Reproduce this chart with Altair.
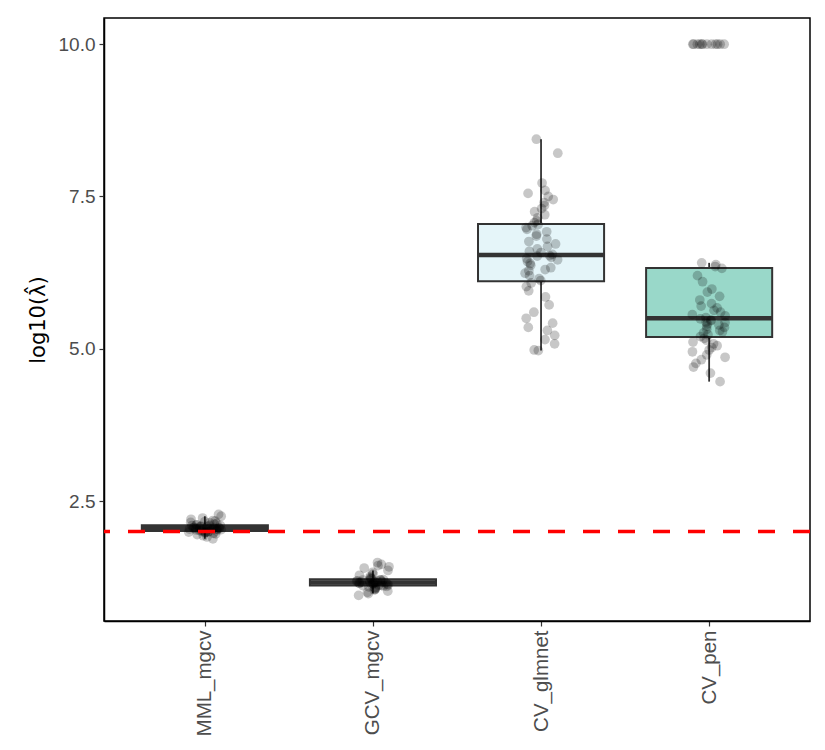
import altair as alt
import pandas as pd

methods = ["MML_mgcv", "GCV_mgcv", "CV_glmnet", "CV_pen"]

mml_mgcv = [1.88, 1.91, 1.93, 1.95, 1.96, 1.97, 1.98, 1.985, 1.99, 1.99, 1.995, 2.0, 2.005,
            2.01, 2.015, 2.02, 2.025, 2.03, 2.03, 2.035, 2.04, 2.04, 2.045, 2.05, 2.05, 2.055,
            2.06, 2.06, 2.065, 2.07, 2.075, 2.08, 2.085, 2.09, 2.095, 2.1, 2.1, 2.105, 2.11,
            2.12, 2.13, 2.14, 2.15, 2.16, 2.17, 2.18, 2.2, 2.22, 2.25, 2.28]
gcv_mgcv = [0.95, 0.98, 1.0, 1.02, 1.04, 1.05, 1.06, 1.07, 1.08, 1.09, 1.10, 1.105, 1.11,
            1.115, 1.12, 1.125, 1.13, 1.135, 1.14, 1.145, 1.15, 1.15, 1.155, 1.16, 1.16, 1.165,
            1.17, 1.17, 1.175, 1.18, 1.185, 1.19, 1.195, 1.2, 1.2, 1.205, 1.21, 1.22, 1.23,
            1.24, 1.26, 1.28, 1.3, 1.33, 1.36, 1.4, 1.42, 1.44, 1.46, 1.49]
cv_glmnet = [4.97, 4.98, 5.08, 5.15, 5.22, 5.3, 5.35, 5.42, 5.5, 5.6, 5.72, 5.85, 5.95, 6.02, 6.08,
             6.12, 6.15, 6.2, 6.24, 6.28, 6.3, 6.33, 6.37, 6.4, 6.43, 6.46, 6.48, 6.5, 6.52, 6.53,
             6.55, 6.58, 6.6, 6.64, 6.68, 6.72, 6.76, 6.8, 6.85, 6.88, 6.92, 6.96, 6.99, 7.02, 7.04,
             7.07, 7.1, 7.15, 7.2, 7.25, 7.3, 7.35, 7.4, 7.45, 7.5, 7.55, 7.6, 7.72, 8.21, 8.44]
cv_pen = [4.46, 4.6, 4.7, 4.76, 4.82, 4.86, 4.9, 4.95, 4.98, 5.02, 5.05, 5.08, 5.11, 5.14, 5.17,
          5.2, 5.23, 5.26, 5.28, 5.3, 5.32, 5.35, 5.37, 5.39, 5.41, 5.43, 5.44, 5.46, 5.47, 5.49,
          5.51, 5.54, 5.56, 5.6, 5.63, 5.67, 5.7, 5.74, 5.8, 5.86, 5.93, 5.98, 6.1, 6.2, 6.32,
          6.35, 6.38, 6.41,
          10.0, 10.0, 10.0, 10.0, 10.0, 10.0, 10.0, 10.0, 10.0, 10.0, 10.0, 10.0]

fill_colors = ["#B3B3B3", "#B3B3B3", "#E5F5F9", "#99D8C9"]
ref_line = [2.0]

rows = []
for m, vals in zip(methods, [mml_mgcv, gcv_mgcv, cv_glmnet, cv_pen]):
    for v in vals:
        rows.append({"method": m, "value": v})
df = pd.DataFrame(rows)

meth_list = "[" + ",".join("'" + m + "'" for m in methods) + "]"
pos_expr = f"indexof({meth_list}, datum.method) + 1"

xscale = alt.Scale(domain=[0.4, 4.6], nice=False, zero=False)
yscale = alt.Scale(domain=[0.53, 10.43], nice=False, zero=False)

xaxis = alt.Axis(values=[1, 2, 3, 4],
                 labelExpr=f"{meth_list}[datum.value - 1]",
                 labelAngle=270, labelFontSize=20.5, labelColor="#4D4D4D",
                 labelFont="Liberation Sans", labelPadding=4,
                 tickColor="#333333", tickSize=5, tickWidth=1.2,
                 domainColor="black", domainWidth=1.5, grid=False, title=None)
yaxis = alt.Axis(values=[2.5, 5.0, 7.5, 10.0], format=".1f",
                 labelFontSize=19, labelColor="#4D4D4D", labelFont="Liberation Sans",
                 labelPadding=4,
                 tickColor="#333333", tickSize=5, tickWidth=1.2,
                 domainColor="black", domainWidth=1.5, grid=False,
                 title="log10(λ̂)", titleFontSize=21, titleFont="DejaVu Sans",
                 titleFontWeight="normal", titleColor="black", titlePadding=10)

base = alt.Chart(df).transform_calculate(pos=pos_expr)

stats = base.transform_joinaggregate(
    q1="q1(value)", q3="q3(value)", med="median(value)", groupby=["method"]
).transform_calculate(
    lo="datum.q1 - 1.5 * (datum.q3 - datum.q1)",
    hi="datum.q3 + 1.5 * (datum.q3 - datum.q1)"
).transform_filter(
    "datum.value >= datum.lo && datum.value <= datum.hi"
).transform_aggregate(
    wlo="min(value)", whi="max(value)",
    groupby=["method", "pos", "q1", "q3", "med"]
).transform_calculate(
    xl="datum.pos - 0.375", xr="datum.pos + 0.375"
)

whisker = stats.mark_rule(color="#333333", strokeWidth=1.8).encode(
    x=alt.X("pos:Q", scale=xscale, axis=xaxis),
    y=alt.Y("wlo:Q", scale=yscale, axis=yaxis),
    y2="whi:Q",
)
box = stats.mark_rect(stroke="#333333", strokeWidth=2).encode(
    x=alt.X("xl:Q", scale=xscale, axis=xaxis),
    x2="xr:Q",
    y=alt.Y("q1:Q", scale=yscale, axis=yaxis),
    y2="q3:Q",
    fill=alt.Fill("method:N", scale=alt.Scale(domain=methods, range=fill_colors), legend=None),
)
median = stats.mark_rule(color="#333333", strokeWidth=4.5).encode(
    x=alt.X("xl:Q", scale=xscale, axis=xaxis),
    x2="xr:Q",
    y=alt.Y("med:Q", scale=yscale, axis=yaxis),
)

points = base.transform_window(
    rn="row_number()", groupby=["method"]
).transform_calculate(
    jit="(((sin(datum.rn * 12.9898 + datum.pos * 78.233) * 43758.5453) % 1 + 1) % 1 - 0.5) * 0.2",
).transform_calculate(
    xj="datum.pos + datum.jit"
).mark_circle(size=95, color="black", opacity=0.22).encode(
    x=alt.X("xj:Q", scale=xscale, axis=xaxis),
    y=alt.Y("value:Q", scale=yscale, axis=yaxis),
)

hline = alt.Chart(pd.DataFrame({"y": ref_line})).mark_rule(
    color="#FF0000", strokeWidth=3.5, strokeDash=[17, 18]
).encode(y=alt.Y("y:Q", scale=yscale, axis=yaxis))

chart = alt.layer(whisker, box, median, points, hline).properties(
    width=706, height=603,
    padding={"left": 104, "top": 18, "right": 15, "bottom": 129},
    autosize="none",
).configure_view(stroke="black", strokeWidth=1.5)

chart.save("out.html", embed_options={"renderer": "svg", "actions": False})
